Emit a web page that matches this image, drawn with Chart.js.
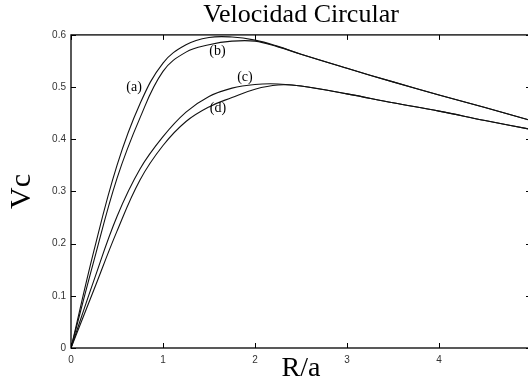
<!DOCTYPE html>
<html>
<head>
<meta charset="utf-8">
<script src="https://cdn.jsdelivr.net/npm/chart.js@4/dist/chart.umd.min.js"></script>
<style>
  html, body { margin: 0; padding: 0; background: #fff; overflow: hidden; }
  canvas { display: block; }
</style>
</head>
<body>
<canvas id="chart" width="540" height="385"></canvas>
<script>
// R/a sample positions and the four rotation curves
const radius = [0, 0.25, 0.5, 0.75, 1, 1.25, 1.5, 1.75, 2, 2.25, 2.5, 3, 3.5, 4, 4.5, 5];
const curveA = [0, 0.187, 0.350, 0.468, 0.546, 0.581, 0.595, 0.596, 0.590, 0.578, 0.563, 0.536, 0.510, 0.485, 0.461, 0.436];
const curveB = [0, 0.168, 0.325, 0.441, 0.530, 0.567, 0.581, 0.588, 0.588, 0.577, 0.563, 0.536, 0.510, 0.485, 0.461, 0.436];
const curveC = [0, 0.130, 0.252, 0.343, 0.405, 0.452, 0.482, 0.498, 0.505, 0.506, 0.502, 0.487, 0.470, 0.454, 0.436, 0.419];
const curveD = [0, 0.112, 0.224, 0.322, 0.388, 0.434, 0.462, 0.480, 0.496, 0.504, 0.502, 0.487, 0.470, 0.454, 0.436, 0.419];

const xTickLabels = ['0', '1', '2', '3', '4'];

// curve tags and where they sit (data coords)
const tagNames = ['(a)', '(b)', '(c)', '(d)'];
const tagR = [0.685, 1.592, 1.891, 1.598];
const tagV = [0.499, 0.568, 0.519, 0.46];

const toPoints = vals => vals.map((v, i) => ({x: radius[i], y: v}));

const tickFont = {family: 'Liberation Sans', size: 10};

const framePlugin = {
    id: 'frame',
    afterDatasetsDraw(chart) {
        const {ctx, chartArea: a, scales: {x, y}} = chart;
        ctx.save();
        ctx.strokeStyle = '#000';
        ctx.lineWidth = 1.3;
        ctx.strokeRect(a.left, a.top, a.right - a.left, a.bottom - a.top);

        // gnuplot-style inward ticks on all four sides
        ctx.lineWidth = 1;
        ctx.beginPath();
        x.ticks.forEach(t => {
            const px = Math.round(x.getPixelForValue(t.value)) + 0.5;
            ctx.moveTo(px, a.bottom); ctx.lineTo(px, a.bottom - 5);
            ctx.moveTo(px, a.top); ctx.lineTo(px, a.top + 5);
        });
        y.ticks.forEach(t => {
            const py = Math.round(y.getPixelForValue(t.value)) + 0.5;
            ctx.moveTo(a.left, py); ctx.lineTo(a.left + 5, py);
            ctx.moveTo(a.right, py); ctx.lineTo(a.right - 5, py);
        });
        ctx.stroke();

        ctx.fillStyle = '#000';
        ctx.font = '14px "Liberation Serif"';
        ctx.textAlign = 'center';
        ctx.textBaseline = 'middle';
        tagNames.forEach((name, i) => {
            ctx.fillText(name, x.getPixelForValue(tagR[i]), y.getPixelForValue(tagV[i]));
        });
        ctx.restore();
    }
};

const lineStyle = {
    borderColor: '#111',
    borderWidth: 1.1,
    pointRadius: 0,
    fill: false,
    tension: 0.4
};

new Chart(document.getElementById('chart'), {
    type: 'line',
    data: {
        datasets: [
            {label: '(a)', data: toPoints(curveA), ...lineStyle},
            {label: '(b)', data: toPoints(curveB), ...lineStyle},
            {label: '(c)', data: toPoints(curveC), ...lineStyle},
            {label: '(d)', data: toPoints(curveD), ...lineStyle}
        ]
    },
    options: {
        responsive: false,
        animation: false,
        devicePixelRatio: 1,
        layout: {padding: {left: 0, right: 9, top: 0, bottom: 0}},
        plugins: {
            legend: {display: false},
            tooltip: {enabled: false},
            title: {
                display: true,
                text: 'Velocidad Circular',
                fullSize: false,
                color: '#000',
                font: {family: 'Liberation Serif', size: 26, weight: 'normal', lineHeight: 1.15},
                padding: {top: 0, bottom: 5}
            }
        },
        scales: {
            x: {
                type: 'linear',
                min: 0,
                max: 5,
                grid: {display: false, drawTicks: false},
                border: {display: false},
                ticks: {
                    stepSize: 1,
                    padding: 6,
                    color: '#333',
                    font: tickFont,
                    maxRotation: 0,
                    callback: v => xTickLabels[v] !== undefined ? xTickLabels[v] : ''
                },
                title: {
                    display: true,
                    text: 'R/a',
                    color: '#000',
                    font: {family: 'Liberation Serif', size: 28},
                    padding: {top: 0, bottom: 0}
                },
                afterFit: s => { s.height = 37; }
            },
            y: {
                type: 'linear',
                min: 0,
                max: 0.6,
                grid: {display: false, drawTicks: false},
                border: {display: false},
                ticks: {
                    stepSize: 0.1,
                    padding: 5,
                    color: '#333',
                    font: tickFont
                },
                title: {
                    display: true,
                    text: 'Vc',
                    color: '#000',
                    font: {family: 'Liberation Serif', size: 30},
                    padding: {top: 4, bottom: 0}
                },
                afterFit: s => { s.width = 71; }
            }
        }
    },
    plugins: [framePlugin]
});
</script>
</body>
</html>
